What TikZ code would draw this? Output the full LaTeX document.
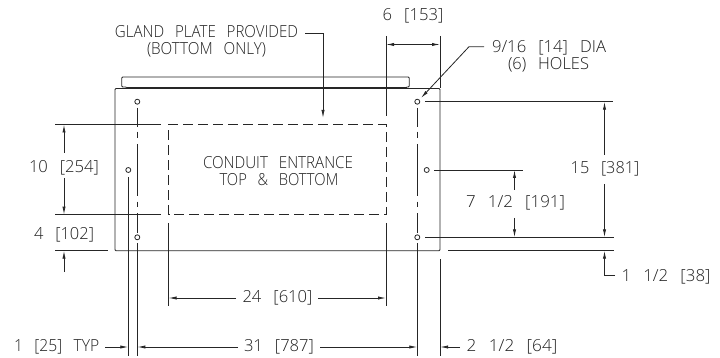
\documentclass[tikz,border=0pt]{standalone}
\usepackage{graphicx}
\usepackage{fontspec}
\setmainfont{Open Sans Light}
\usetikzlibrary{arrows.meta}
\definecolor{ink}{gray}{0.15}
\definecolor{txt}{gray}{0.12}
\tikzset{
  x=1pt,y=-1pt,
  every node/.style={inner sep=0pt,outer sep=0pt},
  ln/.style={draw=ink,line width=0.8pt},
  ext/.style={ln},
  arw/.style={ln,-{Latex[length=8pt,width=3.2pt]}},
  dsh/.style={ln,dash pattern=on 10pt off 5pt},
  ctr/.style={ln},
  hole/.style={draw=ink,line width=0.8pt,circle,minimum size=5pt,fill=none},
  lab/.style={text=txt,font=\fontsize{16.6}{18}\selectfont,anchor=base},
}
\newcommand{\wt}[2]{\resizebox{#1pt}{\height}{\spaceskip=0.72em\relax #2}}
\begin{document}
\begin{tikzpicture}
\useasboundingbox (0,0) rectangle (720,358);
% enclosure
\draw[ln,rounded corners=1pt] (126.7,88.5) -- (126.7,87) -- (121.7,87) -- (121.7,77) -- (409.3,77) -- (409.3,87) -- (406,87) -- (406,88.5);
\draw[ln,line width=0.5pt] (126.7,87) -- (406,87);
\draw[ln,rounded corners=1pt] (115,250.7) -- (115,88.5) -- (440,88.5) -- (440,250.7) -- cycle;
% gland plate
\draw[dsh] (168.5,214.7) -- (168.5,124.5) -- (386,124.5) -- (386,214.7) -- cycle;
% holes
\node[hole] (h1) at (137.3,101.7) {};
\node[hole] (h2) at (128.3,170) {};
\node[hole] (h3) at (137.3,237.3) {};
\node[hole] (h4) at (417.3,101.7) {};
\node[hole] (h5) at (426.7,170) {};
\node[hole] (h6) at (417.3,237.3) {};
% centre lines
\draw[ctr] (137.3,107.7) -- (137.3,127.3) (137.3,131.7) -- (137.3,138.3) (137.3,144) -- (137.3,196) (137.3,201.7) -- (137.3,206.7) (137.3,213.3) -- (137.3,233);
\draw[ctr] (137.3,243) -- (137.3,356);
\draw[ctr] (128.3,177) -- (128.3,356);
\draw[ctr] (417.3,107.7) -- (417.3,127.3) (417.3,131.7) -- (417.3,138.3) (417.3,144) -- (417.3,196) (417.3,201.7) -- (417.3,206.7) (417.3,213.3) -- (417.3,233);
\draw[ctr] (417.3,243) -- (417.3,356);
% extension lines
\draw[ext] (55,124.5) -- (161,124.5);
\draw[ext] (55,214.7) -- (161,214.7);
\draw[ext] (55,250.7) -- (108,250.7);
\draw[ext] (168.5,223) -- (168.5,306);
\draw[ext] (386,223) -- (386,306);
\draw[ext] (386,36) -- (386,116);
\draw[ext] (440,36) -- (440,88.5);
\draw[ext] (440,259) -- (440,356);
\draw[ext] (425,101.7) -- (613,101.7);
\draw[ext] (434,170) -- (523,170);
\draw[ext] (425,237.3) -- (614,237.3);
\draw[ext] (448,250.7) -- (614,250.7);
% labels
\node[lab] (gp) at (206.5,37.7) {\wt{183}{GLAND PLATE PROVIDED}};
\node[lab] (gp2) at (206.5,54.7) {\wt{119}{(BOTTOM ONLY)}};
\node[lab] (ce) at (278,169) {\wt{150}{CONDUIT ENTRANCE}};
\node[lab] (ce2) at (279,185.7) {\wt{119}{TOP \& BOTTOM}};
\node[lab] (d6) at (413,20.7) {\wt{60.6}{6 [153]}};
\node[lab] (dia) at (549,52.3) {\wt{114}{9/16 [14] DIA}};
\node[lab] (ho) at (548.5,69.3) {\wt{81}{(6) HOLES}};
\node[lab] (d10) at (64,172.3) {\wt{70}{10 [254]}};
\node[lab] (d4) at (64,240) {\wt{60}{4 [102]}};
\node[lab] (d15) at (605,174) {\wt{68.6}{15 [381]}};
\node[lab] (d7) at (515.5,208) {\wt{99}{7 1/2 [191]}};
\node[lab] (d1) at (666,281.3) {\wt{89}{1 1/2 [38]}};
\node[lab] (d24) at (277.5,302) {\wt{70}{24 [610]}};
\node[lab] (d31) at (279,351.3) {\wt{70}{31 [787]}};
\node[lab] (d25) at (56.7,351.3) {\wt{85}{1 [25] TYP}};
\node[lab] (d64) at (512,351) {\wt{90.6}{2 1/2 [64]}};
% coordinates for dimension lines
\coordinate (a10t) at (64,124.5);
\coordinate (a10b) at (64,214.7);
\coordinate (a4) at (64,250.7);
\coordinate (a15t) at (604.5,101.7);
\coordinate (a15b) at (604.5,237.3);
\coordinate (a7t) at (514.5,170);
\coordinate (a7b) at (514.5,237.3);
\coordinate (a38) at (604.5,250.7);
\coordinate (a6l) at (386,44.5);
\coordinate (a6r) at (440,44.5);
% arrows
\draw[arw] (64,153) -- (a10t);
\draw[arw] (64,178) -- (a10b);
\draw[arw] (64,272) -- (a4);
\draw[arw] (604.5,155) -- (a15t);
\draw[arw] (604.5,184) -- (a15b);
\draw[arw] (514.5,190) -- (a7t);
\draw[arw] (514.5,218) -- (a7b);
\draw[arw] (615,275.7) -- (604.5,275.7) -- (a38);
\draw[ln,{Latex[length=8pt,width=3.2pt]}-{Latex[length=8pt,width=3.2pt]}] (a6l) -- (a6r);
\draw[arw] (236,298) -- (168.5,298);
\draw[arw] (318,298) -- (386,298);
\draw[arw] (238,347) -- (137.3,347);
\draw[arw] (320,347) -- (417.3,347);
\draw[arw] (105,347) -- (128.3,347);
\draw[arw] (460,347) -- (440,347);
\draw[arw] (305,33.5) -- (323,33.5) -- (323,118);
\draw[arw] (484,46.7) -- (469,46.7) -- (421,98);
\end{tikzpicture}
\end{document}
